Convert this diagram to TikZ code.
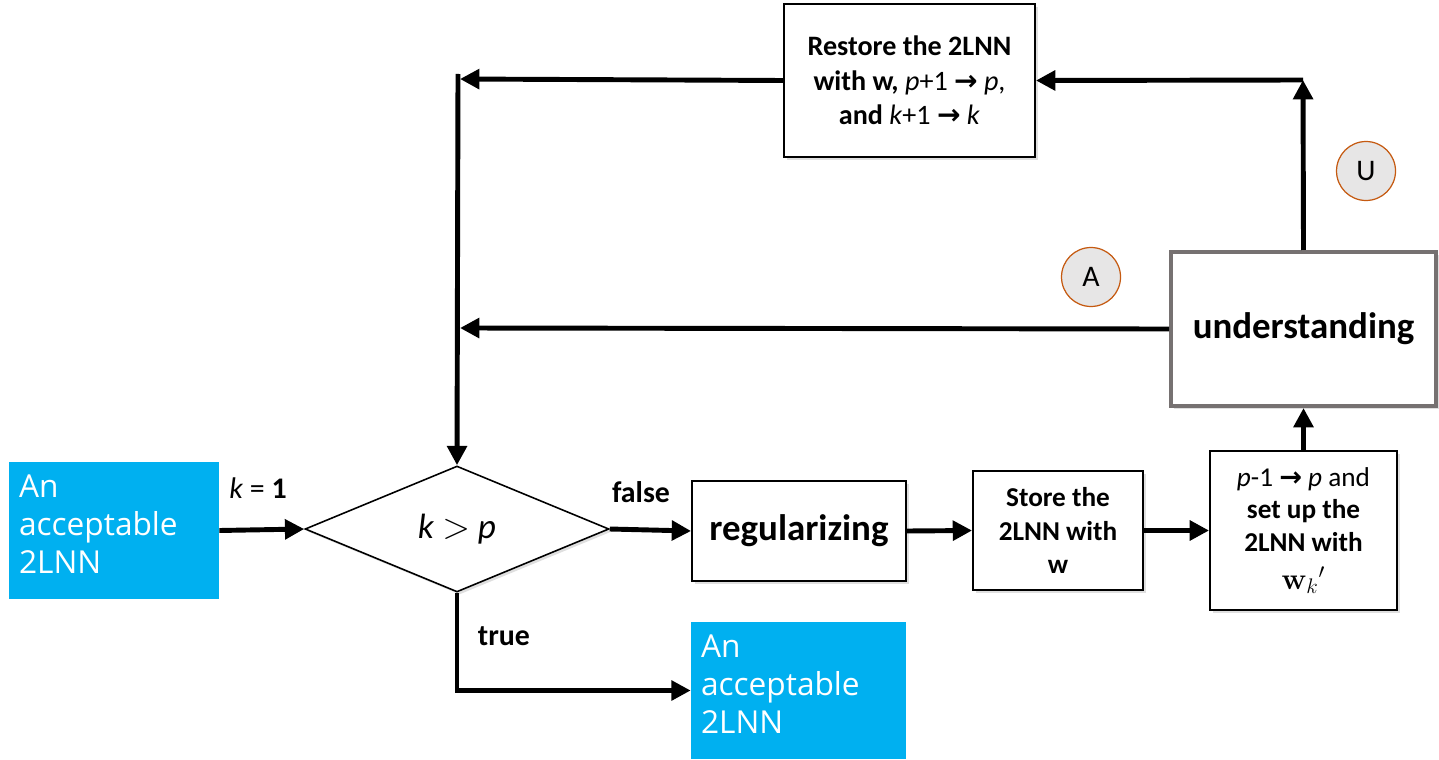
\documentclass[tikz,border=0pt]{standalone}
\usepackage[no-math]{fontspec}
\setmainfont{Carlito}
\newfontfamily\bluefont{Open Sans}
\newfontfamily\symfont{DejaVu Sans}
\usepackage{tikz}
\usetikzlibrary{positioning, calc, shapes.geometric, arrows.meta, shadows}
\definecolor{boxblue}{HTML}{00B0F0}
\definecolor{bordergray}{HTML}{767171}
\definecolor{circfill}{HTML}{E7E6E6}
\definecolor{circline}{HTML}{C55A11}
\newcommand{\ra}{{\symfont\bfseries →}}
\tikzset{box/.style = {rectangle, draw, line width=1.1pt, fill=white, align=center,
                       drop shadow={shadow xshift=1.5pt, shadow yshift=-1.5pt, opacity=0.25}},
         bluebox/.style = {rectangle, fill=boxblue, text=white, align=left, inner sep=0pt,
                           font=\bluefont\fontsize{18}{21.5}\selectfont},
         decision/.style = {diamond, draw, line width=0.9pt, fill=white, inner sep=0pt,
                            minimum width=6.08cm, minimum height=2.52cm,
                            drop shadow={shadow xshift=1.5pt, shadow yshift=-1.5pt, opacity=0.25}},
         flag/.style = {circle, draw=circline, line width=0.7pt, fill=circfill, minimum size=1.18cm,
                        inner sep=0pt, font=\fontsize{17}{20}\selectfont},
         flow/.style = {line width=2.8pt, -{Triangle[length=11pt,width=11pt]}},
         tag/.style = {font=\bfseries\fontsize{17}{20}\selectfont}}

\begin{document}
\begin{tikzpicture}[x=0.02cm, y=-0.02cm]
\useasboundingbox (0,0) rectangle (1439,760);

% blocks
\node [bluebox, minimum width=4.2cm, minimum height=2.74cm, text width=3.8cm] (in) at (114,530.5)
      {An\\acceptable\\2LNN\rule[-7pt]{0pt}{0pt}};
\node [decision, font=\fontsize{20}{24}\selectfont] (test) at (457,529) {\textit{k} $>$ \textit{p}};
\node [box, minimum width=4.28cm, minimum height=2cm, font=\bfseries\fontsize{21}{25}\selectfont] (reg) at (799,531)
      {regularizing};
\node [box, minimum width=3.4cm, minimum height=2.38cm, font=\bfseries\fontsize{15.5}{19}\selectfont] (store) at (1058,530.5)
      {Store the\\2LNN with\\w};
\node [box, minimum width=3.74cm, minimum height=3.18cm, font=\fontsize{15.5}{18.5}\selectfont] (dec) at (1303.5,530.5)
      {\textit{p}-1 \ra{} \textit{p} and\\\textbf{set up the}\\\textbf{2LNN with}\\[3pt]{\fontsize{18}{19}\selectfont$\mathbf{w}_k{}'$}};
\node [box, draw=bordergray, line width=2.3pt, minimum width=5.3cm, minimum height=3.08cm,
       font=\bfseries\fontsize{21}{25}\selectfont] (und) at (1303.5,329) {understanding};
\node [box, minimum width=5.02cm, minimum height=3.06cm, font=\fontsize{16}{19.5}\selectfont] (rest) at (909.5,80.5)
      {\textbf{Restore the 2LNN}\\\textbf{with w,} \textit{p}+1 \ra{} \textit{p},\\\textbf{and} \textit{k}+1 \ra{} \textit{k}};
\node [bluebox, minimum width=4.3cm, minimum height=2.74cm, text width=3.9cm] (out) at (798.5,690.5)
      {An\\acceptable\\2LNN\rule[-7pt]{0pt}{0pt}};

\node [flag] (a) at (1091,277) {A};
\node [flag] (u) at (1366,171) {U};

% labels
\node [tag] (k1) at (258,488) {\mdseries\textit{k} = \textbf{1}};
\node [tag] (fl) at (641,492) {false};
\node [tag] (tr) at (504,636) {true};

% corners
\coordinate (uc) at (1303,80);
\coordinate (lc) at (460,79);
\coordinate (lt) at (458,74);
\coordinate (am) at (460,328);

% connectors
\draw [flow] (in.east) -- (test.west);
\draw [flow] (test.east) -- (reg.west);
\draw [flow] (reg.east) -- (store.west);
\draw [flow] (store.east) -- (dec.west);
\draw [flow] (dec.north) -- (und.south);
\draw [flow] (und.north) -- (uc);
\draw [flow] (uc) -- (rest.east);
\draw [flow] (rest.west) -- (lc);
\draw [flow] (lt) -- (test.north);
\draw [flow] (und.west) -- (am);
\draw [flow] (test.south) |- (out.west);
\end{tikzpicture}
\end{document}
